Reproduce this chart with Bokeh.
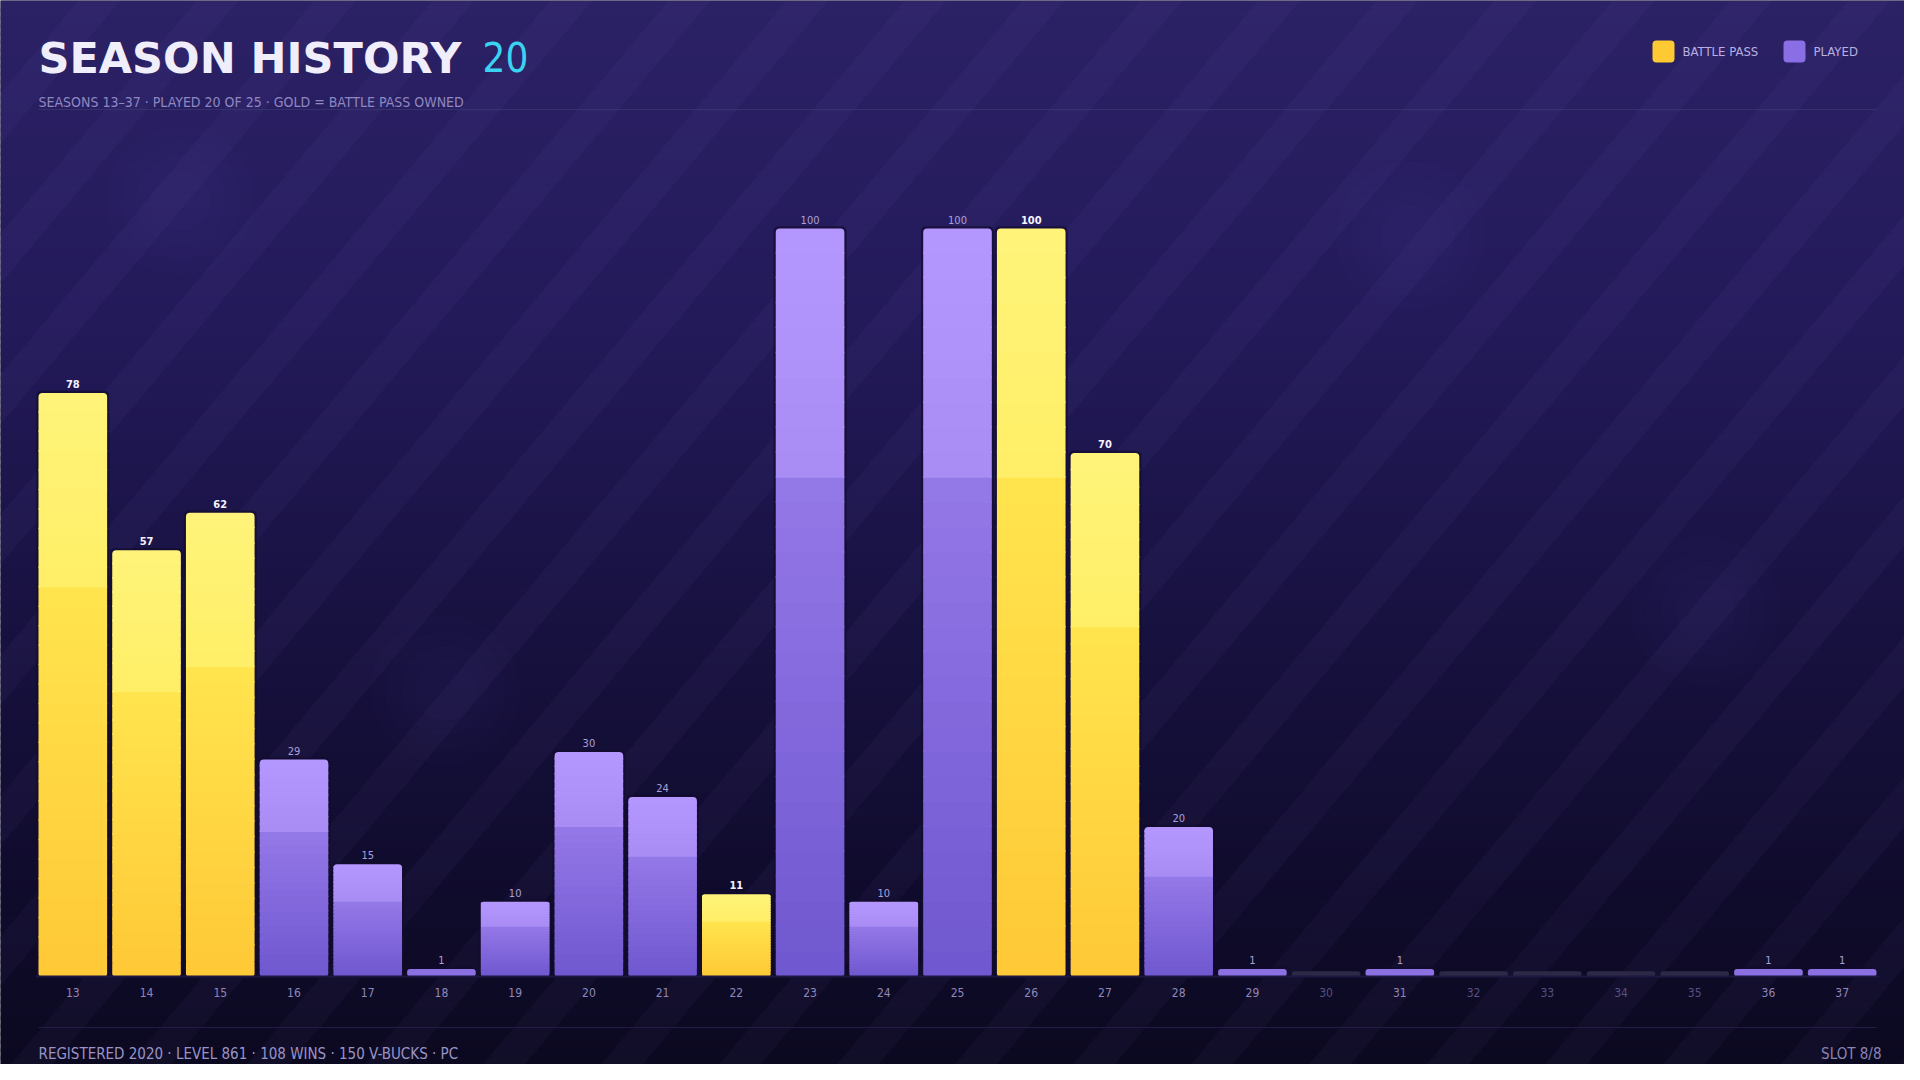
import numpy as np
from bokeh.plotting import figure
from bokeh.models import Range1d, Quad
from bokeh.core.properties import value
from bokeh.embed import file_html
from bokeh.resources import INLINE

# ---------------- data ----------------
seasons = list(range(13, 38))
season_labels = [str(s) for s in seasons]
levels = [78, 57, 62, 29, 15, 1, 10, 30, 24, 11, 100, 10, 100, 100, 70, 20,
          1, 0, 1, 0, 0, 0, 0, 1, 1]
battle_pass = [True, True, True, False, False, False, False, False, False, True,
               False, False, False, True, True, False, False, False, False, False,
               False, False, False, False, False]
current_season = 26

title_text = "SEASON HISTORY"
title_count = "20"
subtitle_text = "SEASONS 13\u201337 \u00b7 PLAYED 20 OF 25 \u00b7 GOLD = BATTLE PASS OWNED"
footer_left = "REGISTERED 2020 \u00b7 LEVEL 861 \u00b7 108 WINS \u00b7 150 V-BUCKS \u00b7 PC"
footer_right = "SLOT 8/8"
legend_labels = ["BATTLE PASS", "PLAYED"]

# ---------------- layout / style ----------------
W, H = 1904, 1064
GAP = 5.1
LEFT, RIGHT = 38 - GAP / 2, 1876 + GAP / 2   # slot area in figure px
BASE, TOP100 = 976, 228                      # baseline and level-100 in figure px
COND = "'DejaVu Sans Condensed', 'Liberation Sans Narrow', Roboto, sans-serif"
HEAVY = "DejaVu Sans"

n = len(seasons)
slot = (RIGHT - LEFT) / n
unit = (BASE - TOP100) / 100.0
x_start = seasons[0] - 0.5 - LEFT / slot
x_end = x_start + W / slot
y_start = -(H - BASE) / unit
y_end = BASE / unit

HAS_BR = "border_radius" in Quad.properties()


def br(v):
    return {"border_radius": v} if HAS_BR else {}


def hex2rgb(h):
    return tuple(int(h[i:i + 2], 16) for i in (1, 3, 5))


def grad(stops, t):
    for (p0, c0), (p1, c1) in zip(stops, stops[1:]):
        if p0 <= t <= p1:
            if p1 == p0:
                return c1
            a, b = hex2rgb(c0), hex2rgb(c1)
            f = (t - p0) / (p1 - p0)
            return "#%02x%02x%02x" % tuple(round(x + (y - x) * f) for x, y in zip(a, b))
    return stops[-1][1]


GOLD = [(0, "#fff47a"), (0.34, "#ffee66"), (0.34, "#ffe44e"), (1, "#ffc836")]
PURP = [(0, "#b497ff"), (0.34, "#a88cf3"), (0.34, "#9478e8"), (1, "#6f57cf")]
BG = [(0, "#2b2165"), (0.3, "#231a5a"), (0.6, "#17113f"), (0.85, "#0f0b2b"), (1, "#0b0920")]

p = figure(width=W, height=H, x_range=Range1d(x_start, x_end),
           y_range=Range1d(y_start, y_end), output_backend="svg",
           toolbar_location=None, min_border=0)
p.axis.visible = False
p.grid.visible = False
p.outline_line_color = None
p.background_fill_color = "#0b0920"
p.border_fill_color = "#0b0920"
p.extra_x_ranges = {"px": Range1d(0, W)}
p.extra_y_ranges = {"px": Range1d(H, 0)}
PX = dict(x_range_name="px", y_range_name="px")

# ---------------- background gradient ----------------
nb = 133
edges = np.linspace(0, H, nb + 1)
p.quad(left=[0] * nb, right=[W] * nb, top=list(edges[:-1]),
       bottom=[e + 3 for e in edges[1:]],
       fill_color=[grad(BG, (edges[i] + edges[i + 1]) / 2 / H) for i in range(nb)],
       line_color=None, **PX)

# diagonal stripes
c = 0.84
sx, sy = [], []
for a in np.arange(-40, W + c * H + 120, 118):
    sx.append([a, a + 42, a + 42 - c * H, a - c * H])
    sy.append([0, 0, H, H])
p.patches(sx, sy, fill_color="#a698ff", fill_alpha=0.04, line_color=None, **PX)

# soft glows
gx = [180, 1410, 1705, 445]
gy = [200, 235, 610, 690]
for s in [60, 90, 120, 150]:
    p.scatter(gx, gy, size=s, marker="circle", fill_color="#7d6cd8", fill_alpha=0.018,
              line_color=None, **PX)

# ---------------- header ----------------
p.text(x=[LEFT + GAP / 2], y=[57], text=[title_text], text_font=value(HEAVY),
       text_font_style="bold", text_font_size="43px", text_color="#f1eefc",
       text_baseline="middle", **PX)
p.text(x=[482], y=[56], text=[title_count], text_font=value(COND),
       text_font_size="40px", text_color="#3ad3f2", text_baseline="middle", **PX)
p.text(x=[38], y=[101], text=[subtitle_text], text_font=value(COND),
       text_font_size="14px", text_color="#8f87c0", text_baseline="middle", **PX)
p.segment(x0=[38], y0=[109], x1=[1876], y1=[109], line_color="#3c3378",
          line_width=1, line_alpha=0.8, **PX)

# legend
p.quad(left=[1652, 1783], right=[1674, 1805], top=[40, 40], bottom=[62, 62],
       fill_color=["#ffc933", "#8a6ee6"], line_color=None, **br(4), **PX)
p.text(x=[1682, 1813], y=[51, 51], text=legend_labels, text_font=value(COND),
       text_font_size="13px", text_color="#b8b0e2", text_baseline="middle", **PX)

# ---------------- bars ----------------
half = 0.5 * (slot - GAP) / slot
K = 30
ov = 1.5 / unit
sl_l, sl_r, sl_b, sl_t, sl_c = [], [], [], [], []
tp_l, tp_r, tp_b, tp_t, tp_c = [], [], [], [], []
pl_l, pl_r, pl_b, pl_t, pl_c = [], [], [], [], []
z_l, z_r = [], []
for s, v, bp in zip(seasons, levels, battle_pass):
    stops = GOLD if bp else PURP
    if v == 0:
        z_l.append(s - half)
        z_r.append(s + half)
        continue
    if v <= 2:
        pl_l.append(s - half); pl_r.append(s + half)
        pl_b.append(0); pl_t.append(v)
        pl_c.append(grad(stops, 0.5))
        continue
    for j in range(K):
        b = v * j / K
        t = v * (j + 1) / K
        col = grad(stops, 1 - (j + 0.5) / K)
        if j == K - 1:
            tp_l.append(s - half); tp_r.append(s + half)
            tp_b.append(b); tp_t.append(t); tp_c.append(col)
        elif j == 0:
            pl_l.append(s - half); pl_r.append(s + half)
            pl_b.append(b); pl_t.append(t + ov); pl_c.append(col)
        else:
            sl_l.append(s - half); sl_r.append(s + half)
            sl_b.append(b); sl_t.append(t + ov); sl_c.append(col)

# dark outline / shadow behind bars
ol_s = [s for s, v in zip(seasons, levels) if v > 0]
ol_v = [v for v in levels if v > 0]
p.quad(left=[s - half - 0.03 for s in ol_s], right=[s + half + 0.03 for s in ol_s],
       bottom=[-0.2] * len(ol_s), top=[v + 0.3 for v in ol_v],
       fill_color="#120c2e", fill_alpha=0.7, line_color=None, **br(5))

p.quad(left=z_l, right=z_r, bottom=[0] * len(z_l), top=[0.7] * len(z_l),
       fill_color="#2c2846", line_color=None, **br(3))
p.quad(left=pl_l, right=pl_r, bottom=pl_b, top=pl_t, fill_color=pl_c,
       line_color=None, **br(3))
p.quad(left=sl_l, right=sl_r, bottom=sl_b, top=sl_t, fill_color=sl_c, line_color=None)
p.quad(left=tp_l, right=tp_r, bottom=tp_b, top=tp_t, fill_color=tp_c,
       line_color=None, **br((4, 4, 0, 0)))

# baseline
p.segment(x0=[seasons[0] - 0.5], y0=[0], x1=[seasons[-1] + 0.5], y1=[0],
          line_color="#1d1742", line_width=2)

# value labels
lab_x = [s for s, v in zip(seasons, levels) if v > 0]
lab_y = [v + 9 / unit for v in levels if v > 0]
lab_t = [str(v) for v in levels if v > 0]
lab_c = ["#f6f3ff" if bp else "#aaa0d8" for v, bp in zip(levels, battle_pass) if v > 0]
lab_w = ["bold" if (bp or s == current_season) else "normal"
         for s, v, bp in zip(seasons, levels, battle_pass) if v > 0]
p.text(x=lab_x, y=lab_y, text=lab_t, text_font=value(COND), text_font_size="11px",
       text_color=lab_c, text_font_style=lab_w, text_align="center",
       text_baseline="middle")

# season tick labels
tick_c = ["#8f87ba" if v > 0 else "#575081" for v in levels]
p.text(x=seasons, y=[BASE + 16] * n, text=season_labels, text_font=value(COND),
       text_font_size="12px", text_color=tick_c, text_align="center",
       text_baseline="middle", x_range_name="default", y_range_name="px")

# ---------------- footer ----------------
p.segment(x0=[38], y0=[1027], x1=[1876], y1=[1027], line_color="#221c46",
          line_width=1, **PX)
p.text(x=[38], y=[1053], text=[footer_left], text_font=value(COND),
       text_font_size="15px", text_color="#9a93c6", text_baseline="middle", **PX)
p.text(x=[1881], y=[1053], text=[footer_right], text_font=value(COND),
       text_font_size="15px", text_color="#8a83b4", text_baseline="middle",
       text_align="right", **PX)

open("out.html", "w").write(file_html(p, INLINE))
